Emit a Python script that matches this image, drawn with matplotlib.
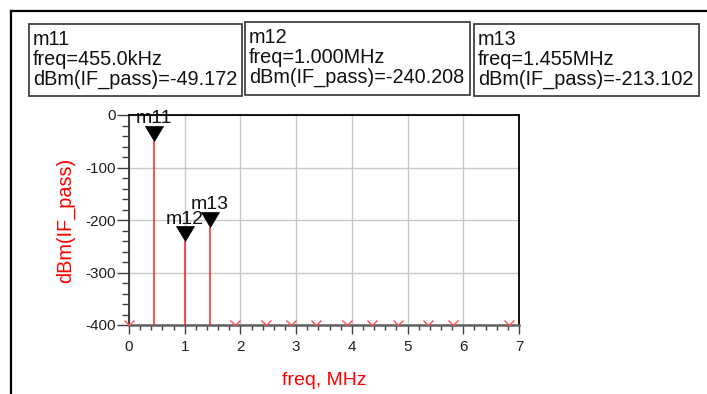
import matplotlib.pyplot as plt
from matplotlib.lines import Line2D
from matplotlib.patches import Rectangle
from matplotlib.path import Path
from matplotlib.ticker import MultipleLocator
import numpy as np

plt.rcParams['font.family'] = ['Liberation Sans', 'DejaVu Sans']
plt.rcParams['axes.unicode_minus'] = False

# marker readouts (freq in MHz, level in dBm)
marker_names = ['m11', 'm12', 'm13']
marker_freq = [0.455, 1.000, 1.455]
marker_dbm = [-49.172, -240.208, -213.102]
marker_freq_text = ['455.0kHz', '1.000MHz', '1.455MHz']

# spectral lines that fall below the plot floor
spur_freq = [0.0, 1.91, 2.455, 2.91, 3.365, 3.91, 4.365, 4.82, 5.365, 5.82, 6.82]
floor_dbm = -400
spur_dbm = [floor_dbm] * len(spur_freq)

W, H = 707, 394
fig = plt.figure(figsize=(W / 100, H / 100), dpi=100)


def fx(px):
    return px / W


def fy(py):
    return 1 - py / H


# window frame
fig.add_artist(Line2D([fx(11), 1.0], [fy(11), fy(11)], color='black', lw=1.6))
fig.add_artist(Line2D([fx(11), fx(11)], [fy(11), 0.0], color='black', lw=1.6))

# marker readout boxes
boxes = [(29, 242, 24, 96), (245, 470, 22, 95), (474, 699, 24, 96)]
for (x0, x1, y0, y1), name, ftxt, val in zip(boxes, marker_names, marker_freq_text, marker_dbm):
    fig.add_artist(Rectangle((fx(x0), fy(y1)), fx(x1) - fx(x0), fy(y0) - fy(y1),
                             transform=fig.transFigure, fill=False,
                             edgecolor='#333333', lw=1.2))
    lines = [name, 'freq=' + ftxt, 'dBm(IF_pass)=%.3f' % val]
    for i, s in enumerate(lines):
        fig.text(fx(x0 + 4), fy(y0 + 21 + 20 * i), s, fontsize=14.3,
                 va='baseline', ha='left', color='#111111')

ax = fig.add_axes([fx(129), fy(325), fx(519) - fx(129), fy(115) - fy(325)])
ax.set_xlim(0, 7)
ax.set_ylim(-400, 0)
ax.set_axisbelow(True)
ax.grid(True, which='major', color='#c8c8c8', lw=1)

ax.xaxis.set_major_locator(MultipleLocator(1))
ax.xaxis.set_minor_locator(MultipleLocator(0.2))
ax.yaxis.set_major_locator(MultipleLocator(100))
ax.yaxis.set_minor_locator(MultipleLocator(20))
ax.tick_params(axis='x', which='major', direction='out', length=6.5, width=1,
               color='#404040', labelsize=11, labelcolor='#202020', pad=4)
ax.tick_params(axis='x', which='minor', direction='out', length=3.6, width=1,
               color='#404040')
ax.tick_params(axis='y', which='major', direction='out', length=8.6, width=1,
               color='#404040', labelsize=11, labelcolor='#202020', pad=1)
ax.tick_params(axis='y', which='minor', direction='out', length=5, width=1,
               color='#404040')

ax.spines['top'].set_color('black')
ax.spines['right'].set_color('black')
ax.spines['left'].set_color('#303030')
ax.spines['bottom'].set_color('#606060')
ax.spines['top'].set_linewidth(1.3)
ax.spines['right'].set_linewidth(1.3)
ax.spines['left'].set_linewidth(1.3)
ax.spines['bottom'].set_linewidth(1.8)

ax.set_xlabel('freq, MHz', color='red', fontsize=14, labelpad=13)
ax.set_ylabel('dBm(IF_pass)', color='red', fontsize=14.3, labelpad=7)

# spectrum stems
ax.vlines(marker_freq, floor_dbm, marker_dbm, color='#ff2020', lw=1.1, zorder=3)

# off-scale points drawn as open v marks on the floor
vmark = Path([(-5, 5), (0, 0), (5, 5)], [Path.MOVETO, Path.LINETO, Path.LINETO])
ax.plot(spur_freq, spur_dbm, linestyle='none', marker=vmark, markersize=7.2,
        markerfacecolor='none', markeredgecolor='#ff5050', markeredgewidth=1,
        clip_on=False, zorder=4)

# marker triangles with the tip on the data point
tri = Path([(-9, 15), (9, 15), (0, 0), (-9, 15)],
           [Path.MOVETO, Path.LINETO, Path.LINETO, Path.CLOSEPOLY])
ax.plot(marker_freq, marker_dbm, linestyle='none', marker=tri, markersize=21.6,
        markerfacecolor='black', markeredgecolor='black', markeredgewidth=0.5,
        clip_on=False, zorder=5)
for name, f, v in zip(marker_names, marker_freq, marker_dbm):
    ax.annotate(name, (f, v), xytext=(0, 12.6), textcoords='offset points',
                ha='center', va='baseline', fontsize=14, color='#111111',
                annotation_clip=False, zorder=6)

fig.savefig('out.png', dpi=100, facecolor='white')
